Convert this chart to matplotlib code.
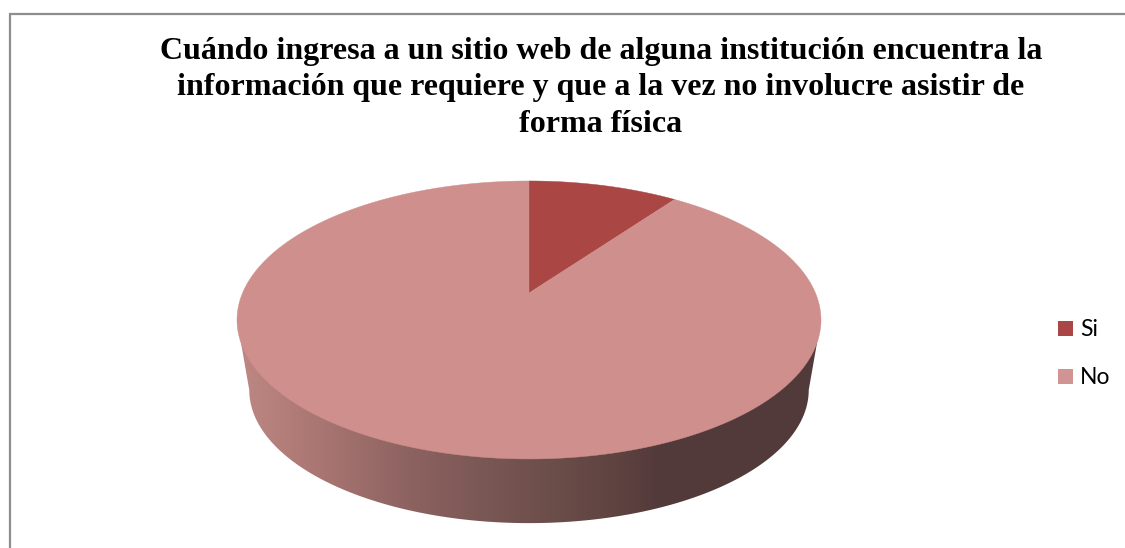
import numpy as np
import matplotlib
matplotlib.use("Agg")
from matplotlib import pyplot as plt
from matplotlib.colors import LinearSegmentedColormap
from matplotlib.patches import Polygon, Rectangle

# chart data
categories = ["Si", "No"]
values = [10, 90]
title = ("Cuándo ingresa a un sitio web de alguna institución encuentra la\n"
         "información que requiere y que a la vez no involucre asistir de\n"
         "forma física")
colors = ["#AA4644", "#CF8F8D"]

# pie geometry, in pixels
cx, cy = 529, 320
rx, ry = 292, 139
apex_shift = 27
depth = 70
bottom_scale = 0.958
tilt = 0.194


def rim(start, end, scale=1.0, y0=cy):
    # points on the perspective rim, angles clockwise from the top
    t = np.radians(np.linspace(start, end, 300))
    d = 1 + tilt * np.cos(t)
    a = rx * np.sqrt(1 - tilt ** 2)
    x = cx + scale * a * np.sin(t) / d
    y = y0 - scale * (ry * np.cos(t) + apex_shift) / d
    return np.column_stack([x, y])


fig = plt.figure(figsize=(11.25, 5.48), dpi=100)
ax = fig.add_axes([0, 0, 1, 1])
ax.set_xlim(0, 1125)
ax.set_ylim(548, 0)
ax.axis("off")

# frame, open on the right and at the bottom
ax.plot([9.5, 9.5, 1125], [548, 13.5, 13.5], color="#8E8E8E", lw=1.6, solid_joinstyle="miter")

ax.text(601, 88, title, ha="center", va="center", family="Liberation Serif",
        fontweight="bold", fontsize=23, linespacing=1.33, color="black")

# side of the pie, gradient clipped to the outline
stops = [(237, "#BE8784"), (300, "#AF7A76"), (400, "#8F6462"), (500, "#765552"),
         (600, "#624643"), (660, "#533A3A"), (821, "#533A3A")]
cmap = LinearSegmentedColormap.from_list(
    "side", [((x - 237) / (821 - 237), c) for x, c in stops])
grad = ax.imshow(np.linspace(0, 1, 584).reshape(1, -1), extent=(237, 821, 530, 300),
                 cmap=cmap, aspect="auto", zorder=1)
# widest points of the rim sit a little past 90 degrees because of the tilt
widest = np.degrees(np.arccos(-tilt))
top_half = rim(widest, 360 - widest)
low_half = rim(widest, 360 - widest, bottom_scale, cy + depth)
outline = np.vstack([top_half[:1], low_half, top_half[-1:], [[cx, cy]]])
clip = Polygon(outline, closed=True, transform=ax.transData)
grad.set_clip_path(clip)
ax.set_xlim(0, 1125)
ax.set_ylim(548, 0)

# top face, one wedge per category
apex = [cx, cy - apex_shift]
start = 0
for v, c in zip(values, colors):
    end = start + 360 * v / sum(values)
    pts = np.vstack([[apex], rim(start, end)])
    ax.add_patch(Polygon(pts, closed=True, facecolor=c, edgecolor=c, lw=0.3, zorder=2))
    start = end

# legend
for lab, c, y in zip(categories, ["#AA4644", "#D09492"], [328.5, 376.5]):
    ax.add_patch(Rectangle((1058, y - 7.5), 15, 15, facecolor=c, edgecolor="none"))
    ax.text(1080, y + 0.5, lab, ha="left", va="center", family="Lato", fontsize=16.5, color="black")

fig.savefig("out.png", dpi=100)
